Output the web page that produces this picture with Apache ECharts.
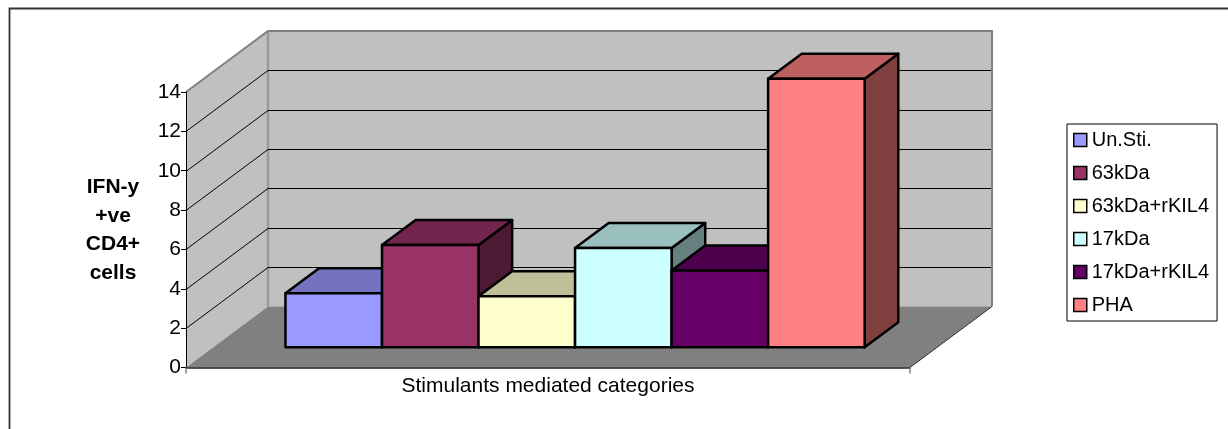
<!DOCTYPE html>
<html>
<head>
<meta charset="utf-8">
<title>IFN-y +ve CD4+ cells</title>
<script src="https://cdn.jsdelivr.net/npm/echarts@6/dist/echarts.min.js"></script>
<style>
  html, body { margin: 0; padding: 0; background: #fff; }
  #chart { width: 1228px; height: 429px; }
</style>
</head>
<body>
<div id="chart"></div>
<script>
// ---- data ----
const categories = ['Stimulants mediated categories'];
const seriesNames = ['Un.Sti.', '63kDa', '63kDa+rKIL4', '17kDa', '17kDa+rKIL4', 'PHA'];
const seriesValues = [2.75, 5.2, 2.6, 5.05, 3.9, 13.65];
const seriesColors = ['#9999FF', '#993366', '#FFFFCC', '#CCFFFF', '#660066', '#FF8080'];
const yMin = 0, yMax = 14, yStep = 2;
const yTitle = 'IFN-y\n+ve\nCD4+\ncells';

// ---- 3D look ----
const FONT = '"Liberation Sans", Arial, Helvetica, sans-serif';
const DEPTH = [82, -61];            // offset from the front of the floor to the back wall
const BAR_FRONT = 0.33;             // bar front plane, as a fraction of the floor depth
const BAR_BACK = 0.74;              // bar back plane
const GROUP_WIDTH = 0.8;            // share of the category taken by the bar group

function shade(hex, k) {
  const n = parseInt(hex.slice(1), 16);
  const r = Math.round(((n >> 16) & 255) * k);
  const g = Math.round(((n >> 8) & 255) * k);
  const b = Math.round((n & 255) * k);
  return 'rgb(' + r + ',' + g + ',' + b + ')';
}

// side wall, back wall, floor and their gridlines
function renderWalls(params, api) {
  const cs = params.coordSys;
  const L = cs.x, R = cs.x + cs.width;
  const dx = DEPTH[0], dy = DEPTH[1];
  const y0 = api.coord([0, yMin])[1];
  const yT = api.coord([0, yMax])[1];
  const kids = [];
  kids.push({ type: 'polygon', shape: { points: [[L, yT], [L + dx, yT + dy], [L + dx, y0 + dy], [L, y0]] },
              style: { fill: '#C0C0C0' } });
  kids.push({ type: 'polygon', shape: { points: [[L + dx, yT + dy], [R + dx, yT + dy], [R + dx, y0 + dy], [L + dx, y0 + dy]] },
              style: { fill: '#C0C0C0' } });
  kids.push({ type: 'line', shape: { x1: L + dx, y1: yT + dy, x2: L + dx, y2: y0 + dy },
              style: { stroke: '#999999', lineWidth: 2.5 } });
  for (let v = yMin + yStep; v < yMax; v += yStep) {
    const y = Math.round(api.coord([0, v])[1]) + 0.5;
    kids.push({ type: 'polyline', shape: { points: [[L, y], [L + dx, y + dy], [R + dx, y + dy]] },
                style: { stroke: '#000', lineWidth: 1, fill: 'none' } });
  }
  kids.push({ type: 'polygon', shape: { points: [[L, y0], [R, y0], [R + dx, y0 + dy], [L + dx, y0 + dy]] },
              style: { fill: '#808080' } });
  kids.push({ type: 'polyline', shape: { points: [[L, yT], [L + dx, yT + dy], [R + dx, yT + dy], [R + dx, y0 + dy]] },
              style: { stroke: '#808080', lineWidth: 2, fill: 'none' } });
  kids.push({ type: 'line', shape: { x1: R, y1: y0, x2: R + dx, y2: y0 + dy },
              style: { stroke: '#333', lineWidth: 1 } });
  return { type: 'group', children: kids };
}

// one 3D column: right side, top, then front face
function barRenderer(i) {
  return function (params, api) {
    const cat = api.value(0);
    const base = api.coord([cat, yMin]);
    const top = api.coord([cat, api.value(1)]);
    const catW = api.size([1, 0])[0];
    const barW = catW * GROUP_WIDTH / seriesNames.length;
    const ox = DEPTH[0] * BAR_FRONT, oy = DEPTH[1] * BAR_FRONT;
    const bx = DEPTH[0] * (BAR_BACK - BAR_FRONT), by = DEPTH[1] * (BAR_BACK - BAR_FRONT);
    const x0 = base[0] - catW * GROUP_WIDTH / 2 + i * barW + ox;
    const x1 = x0 + barW;
    const yb = base[1] + oy, yt = top[1] + oy;
    const c = seriesColors[i];
    const edge = { stroke: '#000', lineWidth: 2.5, lineJoin: 'round' };
    return {
      type: 'group',
      children: [
        { type: 'polygon', shape: { points: [[x1, yt], [x1 + bx, yt + by], [x1 + bx, yb + by], [x1, yb]] },
          style: Object.assign({ fill: shade(c, 0.5) }, edge) },
        { type: 'polygon', shape: { points: [[x0, yt], [x1, yt], [x1 + bx, yt + by], [x0 + bx, yt + by]] },
          style: Object.assign({ fill: shade(c, 0.75) }, edge) },
        { type: 'rect', shape: { x: x0, y: yt, width: barW, height: yb - yt },
          style: Object.assign({ fill: c }, edge) }
      ]
    };
  };
}

const series = [{
  name: 'walls',
  type: 'custom',
  renderItem: renderWalls,
  data: [[0, 0]],
  encode: { x: 0, y: 1 },
  clip: false,
  silent: true,
  z: 1
}];
seriesNames.forEach(function (name, i) {
  series.push({
    name: name,
    type: 'custom',
    renderItem: barRenderer(i),
    data: [[0, seriesValues[i]]],
    encode: { x: 0, y: 1 },
    itemStyle: { color: seriesColors[i] },
    clip: false,
    z: 2 + i
  });
});

const chart = echarts.init(document.getElementById('chart'), null, { renderer: 'canvas' });
chart.setOption({
  animation: false,
  backgroundColor: '#fff',
  textStyle: { fontFamily: FONT },
  grid: { left: 186, top: 92, width: 724, height: 275.5, containLabel: false, outerBoundsMode: 'none' },
  xAxis: {
    type: 'category',
    data: categories,
    z: 20,
    axisLine: { show: true, lineStyle: { color: '#222', width: 1.5 } },
    axisTick: { show: true, length: 6, lineStyle: { color: '#808080', width: 1.5 } },
    axisLabel: { color: '#000', fontSize: 21, fontFamily: FONT, margin: 8 },
    splitLine: { show: false }
  },
  yAxis: {
    type: 'value',
    min: yMin, max: yMax, interval: yStep,
    z: 20,
    axisLine: { show: true, lineStyle: { color: '#000', width: 1 } },
    axisTick: { show: true, length: 5, lineStyle: { color: '#000', width: 1 } },
    axisLabel: { color: '#000', fontSize: 21, fontFamily: FONT, margin: 5 },
    splitLine: { show: false }
  },
  legend: {
    data: seriesNames,
    orient: 'vertical',
    left: 1067,
    top: 124,
    padding: [6, 8, 6, 6],
    itemGap: 13,
    itemWidth: 13,
    itemHeight: 13,
    icon: 'rect',
    selectedMode: false,
    borderColor: '#000',
    borderWidth: 1,
    backgroundColor: '#fff',
    itemStyle: { borderColor: '#000', borderWidth: 1.5 },
    textStyle: { color: '#000', fontSize: 20, fontFamily: FONT, lineHeight: 20 }
  },
  graphic: [
    { type: 'rect', silent: true, z: 100,
      shape: { x: 9.5, y: 8.5, width: 1400, height: 600 },
      style: { fill: 'none', stroke: '#333', lineWidth: 1.8 } },
    { type: 'text', silent: true, x: 113, y: 230,
      style: { text: yTitle, fontSize: 21, fontWeight: 'bold', fontFamily: FONT,
               fill: '#000', align: 'center', verticalAlign: 'middle', lineHeight: 28.5 } }
  ],
  series: series
});
</script>
</body>
</html>
